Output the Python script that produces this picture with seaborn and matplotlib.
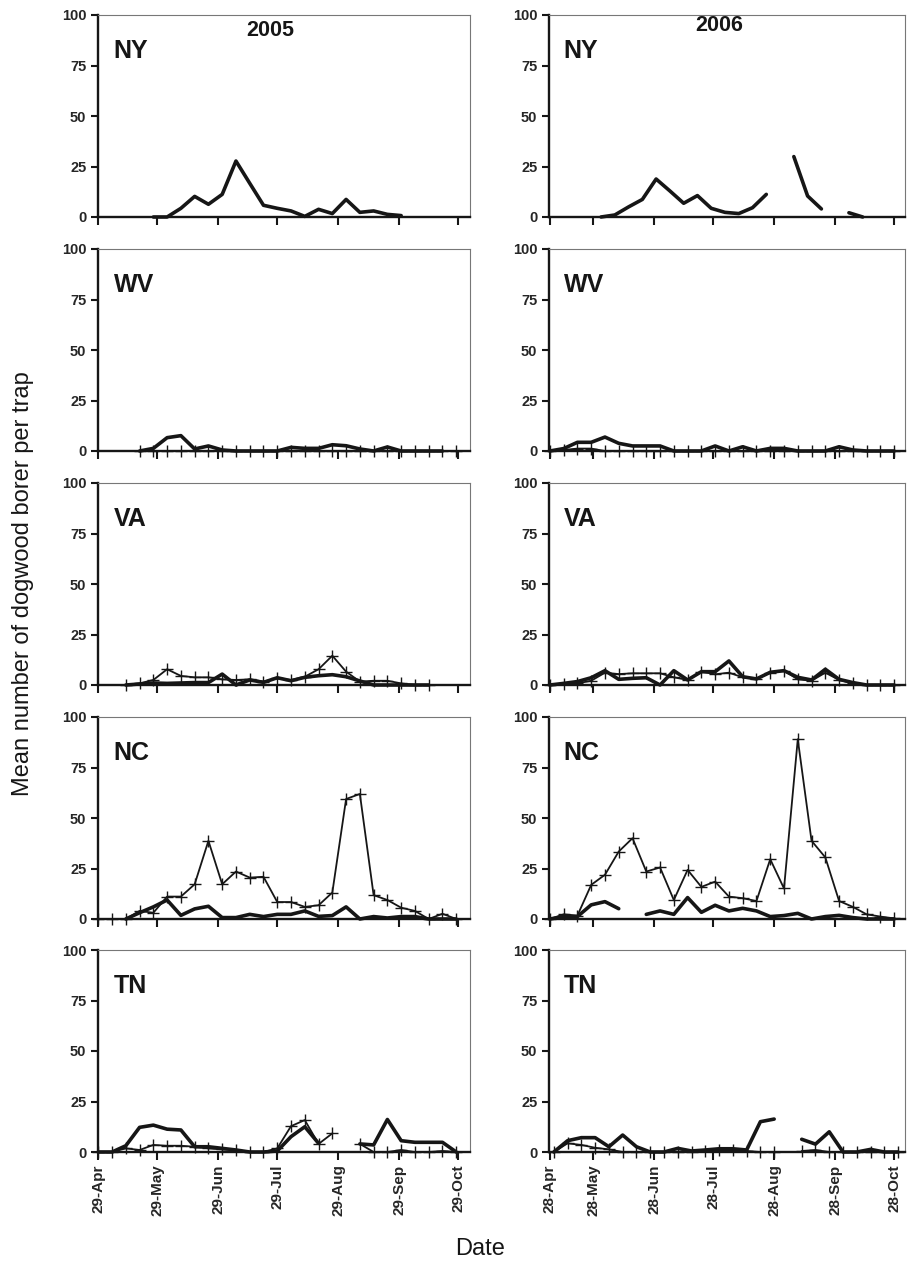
import numpy as np
import pandas as pd
import seaborn as sns
import matplotlib.pyplot as plt

nan = np.nan
states = ['NY', 'WV', 'VA', 'NC', 'TN']

# 2005 - weekly counts, week 0 = 29-Apr; "a" = thick line, "b" = line with + markers
ny_2005_a = [nan, nan, nan, nan, 0, 0, 4.3, 10.2, 6.3, 11.2, 27.7, 16.7, 5.8, 4.3, 3.0, 0.3,
             3.8, 1.7, 8.7, 2.3, 3.0, 1.3, 0.7, nan, nan, nan, nan]
ny_2005_b = [nan] * 27
wv_2005_a = [nan, nan, nan, 0, 1.3, 6.6, 7.6, 1.0, 2.5, 0.5, 0, 0, 0, 0, 1.8, 1.3, 1.3, 3.1,
             2.6, 1.0, 0, 2.0, 0, 0, 0, 0, nan]
wv_2005_b = [nan, nan, nan] + [0] * 24
va_2005_a = [nan, nan, 0, 0.5, 1.0, 0.8, 1.0, 1.2, 1.2, 5.4, 0, 2.5, 1.3, 3.6, 2.1, 3.8, 4.6,
             5.1, 4.1, 2.0, 0, 0, 0, 0, 0, nan, nan]
va_2005_b = [nan, nan, 0, 0.8, 2.5, 7.8, 4.5, 3.8, 3.8, 2.8, 2.5, 2.8, 1.7, 3.3, 2.5, 4.1, 7.8,
             14.5, 6.6, 1.7, 2.1, 2.1, 0.8, 0, 0, nan, nan]
nc_2005_a = [nan, nan, 0, 3.1, 6.0, 9.4, 1.8, 5.0, 6.3, 0.7, 0.7, 2.3, 1.2, 2.3, 2.3, 4.0, 1.3,
             1.7, 6.0, 0, 1.2, 0.5, 1.2, 1.2, 0, 0, 0]
nc_2005_b = [0, 0, 0, 4.0, 3.1, 11.1, 11.1, 17.2, 38.7, 17.2, 23.5, 20.5, 20.9, 8.4, 8.4, 6.0,
             6.8, 13.1, 59.4, 61.9, 11.8, 9.4, 5.6, 4.0, 0, 2.6, 0]
tn_2005_a = [0, 0, 3.1, 12.2, 13.3, 11.3, 10.9, 2.6, 2.6, 1.8, 1.0, 0, 0, 0.5, 7.6, 12.5, 4.3,
             nan, nan, 4.0, 3.5, 16.1, 5.6, 4.8, 4.8, 4.8, 0]
tn_2005_b = [0, 0, 1.8, 1.0, 3.5, 3.1, 3.1, 2.6, 1.8, 1.3, 1.0, 0, 0, 1.8, 12.8, 15.8, 4.0,
             9.2, nan, 4.0, 0, 0, 1.0, 0, 0, 0.5, 0]

# 2006 - weekly counts, week 0 = first trap check
ny_2006_a = [nan, nan, nan, nan, 0, 1.0, 5.0, 8.7, 18.8, 12.9, 6.8, 10.6, 4.3, 2.3, 1.7, 4.6,
             11.2, nan, 29.9, 10.4, 4.0, nan, 2.1, 0, nan, nan]
ny_2006_b = [nan] * 26
wv_2006_a = [0, 1.2, 4.3, 4.3, 6.9, 3.8, 2.5, 2.5, 2.5, 0, 0, 0, 2.5, 0, 2.1, 0, 1.3, 1.3, 0, 0,
             0, 2.1, 0.5, 0, 0, 0]
wv_2006_b = [0, 0.5, 1.2, 1.2] + [0] * 22
va_2006_a = [0, 0.8, 1.7, 3.6, 7.1, 2.8, 3.3, 3.6, 0, 7.1, 2.5, 6.6, 6.6, 11.9, 4.1, 3.0, 6.3,
             7.1, 3.8, 2.5, 7.8, 2.8, 1.2, 0, 0, 0]
va_2006_b = [0, 0.5, 0.8, 2.1, 6.1, 5.4, 5.8, 5.8, 5.8, 3.8, 2.5, 6.6, 5.3, 6.1, 3.8, 3.0, 6.1,
             7.1, 2.8, 2.1, 6.1, 2.5, 0.8, 0, 0, 0]
nc_2006_a = [0, 1.2, 1.2, 7.0, 8.6, 5.1, nan, 2.3, 4.0, 2.3, 10.6, 3.3, 6.8, 4.0, 5.3, 4.0, 1.2,
             1.7, 2.8, 0, 1.2, 1.8, 0.7, 0, 0, 0]
nc_2006_b = [0, 2.3, 1.7, 16.9, 21.9, 33.4, 40.0, 23.5, 25.5, 9.4, 24.3, 15.9, 18.5, 11.1, 10.3,
             8.9, 29.6, 15.1, 89.0, 38.7, 30.5, 8.9, 6.0, 2.3, 1.2, 0.3]
tn_2006_a = [0, 5.6, 7.1, 7.1, 2.6, 8.4, 2.6, 0, 0, 1.8, 0.5, 1.0, 1.6, 1.6, 1.0, 15.0, 16.3, nan,
             6.3, 3.9, 10.0, 0, 0, 1.3, 0, 0]
tn_2006_b = [0, 4.3, 3.5, 2.1, 1.3, 0, 0, 0, 0, 0, 0, 0.5, 0.8, 0.8, 0.5, 0, 0, nan, 0.5, 1.0, 0,
             0, 0, 0, 0, 0]

# first trap check per state, days relative to week 0
start_2005 = [0, 0, 0, 0, 0]
start_2006 = [-2, 0, 0, 0, 2]

tick_days_2005 = [0, 30, 61, 91, 122, 153, 183]
tick_labels_2005 = ['29-Apr', '29-May', '29-Jun', '29-Jul', '29-Aug', '29-Sep', '29-Oct']
tick_days_2006 = [0, 22, 53, 83, 114, 145, 175]
tick_labels_2006 = ['28-Apr', '28-May', '28-Jun', '28-Jul', '28-Aug', '28-Sep', '28-Oct']

series = {
    2005: [(ny_2005_a, ny_2005_b), (wv_2005_a, wv_2005_b), (va_2005_a, va_2005_b),
           (nc_2005_a, nc_2005_b), (tn_2005_a, tn_2005_b)],
    2006: [(ny_2006_a, ny_2006_b), (wv_2006_a, wv_2006_b), (va_2006_a, va_2006_b),
           (nc_2006_a, nc_2006_b), (tn_2006_a, tn_2006_b)],
}

sns.set_style('ticks')
plt.rcParams['font.family'] = ['Liberation Sans', 'DejaVu Sans']

INK = '#161616'


def draw(ax, start, vals, **kw):
    df = pd.DataFrame({'day': start + 7 * np.arange(len(vals)), 'n': np.array(vals, float)})
    if df['n'].notna().sum() == 0:
        return
    # split at gaps so missing weeks break the line
    df['seg'] = df['n'].isna().cumsum()
    df = df.dropna()
    sns.lineplot(data=df, x='day', y='n', units='seg', estimator=None, ax=ax,
                 color=INK, clip_on=False, **kw)


fig = plt.figure(figsize=(9.09, 12.76), dpi=100)
W, H = 909, 1276
cols = {2005: (97.5, 470), 2006: (548.5, 905)}
row_top = [15, 249, 483, 717, 950]
row_h = 202

for year in (2005, 2006):
    x0, x1 = cols[year]
    starts = start_2005 if year == 2005 else start_2006
    ticks = tick_days_2005 if year == 2005 else tick_days_2006
    labels = tick_labels_2005 if year == 2005 else tick_labels_2006
    for i, st in enumerate(states):
        ax = fig.add_axes([x0 / W, 1 - (row_top[i] + row_h) / H, (x1 - x0) / W, row_h / H])
        a, b = series[year][i]
        draw(ax, starts[i], b, lw=1.3, marker='+', markersize=9,
             markeredgecolor=INK, markeredgewidth=1.0)
        draw(ax, starts[i], a, lw=2.6)

        ax.set_ylim(0, 100)
        ax.set_yticks([0, 25, 50, 75, 100])
        if year == 2005:
            ax.set_xlim(-0.4, 189)
        else:
            ax.set_xlim(-0.7, 180.5)
        ax.set_xticks(ticks)
        if i == 4:
            ax.set_xticklabels(labels, rotation=90, fontweight='bold', fontsize=11)
        else:
            ax.set_xticklabels([])
        for lbl in ax.get_yticklabels():
            lbl.set_fontweight('bold')
            lbl.set_fontsize(10.5)
        ax.tick_params(direction='out', length=5, width=1.5, color=INK, pad=3)
        ax.tick_params(axis='x', length=6)
        ax.set_xlabel('')
        ax.set_ylabel('')
        for side in ('left', 'bottom'):
            ax.spines[side].set_linewidth(1.7)
            ax.spines[side].set_color(INK)
        for side in ('top', 'right'):
            ax.spines[side].set_linewidth(0.8)
            ax.spines[side].set_color('#777777')
        ax.text(0.043, 0.82, st, transform=ax.transAxes, fontsize=18, fontweight='bold',
                va='center', ha='left', color=INK)
        if i == 0:
            ax.text(0.465 if year == 2005 else 0.48, 0.925 if year == 2005 else 0.95, str(year),
                    transform=ax.transAxes, fontsize=15.5, fontweight='bold',
                    ha='center', va='center', color=INK)

fig.text(0.025, 0.543, 'Mean number of dogwood borer per trap', rotation=90,
         ha='center', va='center', fontsize=17, color=INK)
fig.text(0.528, 0.021, 'Date', ha='center', va='center', fontsize=17, color=INK)

fig.savefig('out.png', dpi=100)
